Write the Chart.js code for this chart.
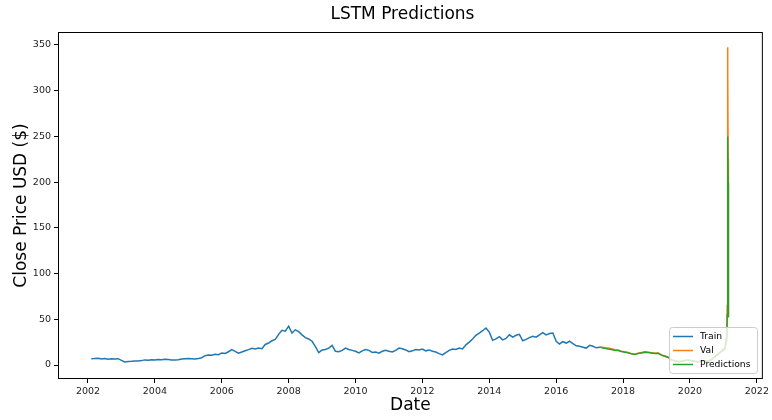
<!DOCTYPE html>
<html>
<head>
<meta charset="utf-8">
<title>LSTM Predictions</title>
<script src="https://cdn.jsdelivr.net/npm/chart.js@4/dist/chart.umd.min.js"></script>
<style>
    body { margin: 0; background: #fff; }
    canvas { display: block; }
</style>
</head>
<body>
<canvas id="chart" width="772" height="420"></canvas>
<script>
// Training period (decimal years) and close prices
const trainDates = [
    2002.1, 2002.2, 2002.3, 2002.4, 2002.5, 2002.6, 2002.7, 2002.8, 2002.9,
    2003.0, 2003.1, 2003.2, 2003.3, 2003.4, 2003.5, 2003.6, 2003.7, 2003.8, 2003.9,
    2004.0, 2004.1, 2004.2, 2004.3, 2004.4, 2004.5, 2004.6, 2004.7, 2004.8, 2004.9,
    2005.0, 2005.1, 2005.2, 2005.3, 2005.4, 2005.5, 2005.6, 2005.7, 2005.8, 2005.9,
    2006.0, 2006.1, 2006.2, 2006.3, 2006.4, 2006.5, 2006.6, 2006.7, 2006.8, 2006.9,
    2007.0, 2007.1, 2007.2, 2007.3, 2007.4, 2007.5, 2007.6, 2007.7, 2007.8, 2007.9,
    2008.0, 2008.1, 2008.2, 2008.3, 2008.4, 2008.5, 2008.6, 2008.7, 2008.8, 2008.9,
    2009.0, 2009.1, 2009.2, 2009.3, 2009.4, 2009.5, 2009.6, 2009.7, 2009.8, 2009.9,
    2010.0, 2010.1, 2010.2, 2010.3, 2010.4, 2010.5, 2010.6, 2010.7, 2010.8, 2010.9,
    2011.0, 2011.1, 2011.2, 2011.3, 2011.4, 2011.5, 2011.6, 2011.7, 2011.8, 2011.9,
    2012.0, 2012.1, 2012.2, 2012.3, 2012.4, 2012.5, 2012.6, 2012.7, 2012.8, 2012.9,
    2013.0, 2013.1, 2013.2, 2013.3, 2013.4, 2013.5, 2013.6, 2013.7, 2013.8, 2013.9,
    2014.0, 2014.1, 2014.2, 2014.3, 2014.4, 2014.5, 2014.6, 2014.7, 2014.8, 2014.9,
    2015.0, 2015.1, 2015.2, 2015.3, 2015.4, 2015.5, 2015.6, 2015.7, 2015.8, 2015.9,
    2016.0, 2016.1, 2016.2, 2016.3, 2016.4, 2016.5, 2016.6, 2016.7, 2016.8, 2016.9,
    2017.0, 2017.1, 2017.2, 2017.3, 2017.35
];
const trainClose = [
    6.8, 7.0, 7.4, 6.6, 7.2, 6.2, 6.8, 6.5, 6.9,
    5.0, 3.4, 3.8, 4.0, 4.3, 4.5, 4.8, 5.6, 5.2, 5.8,
    5.6, 6.0, 5.8, 6.2, 5.9, 5.6, 5.4, 5.8, 6.6, 6.9,
    7.2, 6.9, 6.6, 7.1, 8.0, 10.2, 11.0, 10.6, 11.8, 11.2,
    13.2, 12.6, 14.5, 16.8, 15.0, 13.0, 14.2, 15.6, 16.8, 18.2,
    17.6, 18.5, 17.8, 22.5, 24.0, 26.5, 28.0, 33.5, 38.0, 37.0,
    42.5, 35.0, 38.5, 36.5, 33.0, 30.0, 28.5, 26.0, 20.0, 13.5,
    16.5, 17.0, 18.5, 21.5, 15.0, 14.5, 16.0, 18.5, 17.0, 16.0,
    15.0, 13.2, 15.5, 17.0, 16.0, 13.8, 14.2, 13.0, 15.0, 16.0,
    15.0, 14.2, 16.0, 18.5, 17.8, 16.5, 14.5, 15.5, 17.0, 16.5,
    17.5, 15.5, 16.5, 15.0, 14.2, 12.5, 11.0, 13.5, 16.0, 17.5,
    17.0, 18.5, 17.5, 22.0, 25.0, 28.5, 32.5, 35.0, 37.5, 40.5,
    36.0, 27.0, 28.5, 31.0, 27.5, 29.0, 33.0, 30.5, 32.5, 33.5,
    26.5, 28.0, 30.0, 31.5, 30.5, 33.0, 35.5, 33.0, 34.5, 35.0,
    26.0, 23.0, 25.5, 24.0, 26.0, 23.5, 21.0, 20.5, 19.5, 18.5,
    21.5, 20.5, 18.8, 19.5, 19.8
];

// Validation period, actual closes and LSTM predictions
const valDates = [
    2017.35, 2017.45, 2017.55, 2017.65, 2017.75, 2017.85, 2017.95,
    2018.05, 2018.15, 2018.25, 2018.35, 2018.45, 2018.55, 2018.65, 2018.75, 2018.85, 2018.95,
    2019.05, 2019.15, 2019.25, 2019.35, 2019.45, 2019.55, 2019.65, 2019.75, 2019.85, 2019.95,
    2020.05, 2020.15, 2020.25, 2020.35, 2020.45, 2020.55, 2020.65, 2020.75, 2020.85, 2020.95,
    2021.05, 2021.09, 2021.105, 2021.115, 2021.123, 2021.126, 2021.129,
    2021.132, 2021.135, 2021.143, 2021.146, 2021.149, 2021.152, 2021.155
];
const valClose = [
    19.8, 19.0, 18.5, 17.8, 16.8, 16.5, 15.2,
    14.5, 13.8, 12.4, 11.8, 13.0, 13.8, 14.5, 14.0, 13.5, 12.8,
    13.2, 11.0, 9.8, 8.5, 5.5, 4.5, 3.6, 4.0, 5.2, 5.6,
    4.6, 3.9, 3.4, 4.8, 4.3, 4.4, 6.0, 9.8, 12.5, 15.8,
    18.8, 31.4, 39.1, 65.0, 76.8, 148.0, 347.5,
    193.6, 325.0, 225.0, 90.0, 92.4, 53.5, 63.8
];
const predClose = [
    18.8, 18.3, 17.6, 17.0, 16.2, 15.8, 14.8,
    14.0, 13.4, 12.2, 11.6, 12.5, 13.2, 13.9, 13.6, 13.1, 12.5,
    12.8, 10.8, 9.6, 8.3, 5.6, 4.6, 3.8, 4.0, 5.0, 5.4,
    4.6, 4.0, 3.5, 4.6, 4.3, 4.4, 5.8, 9.2, 12.0, 15.0,
    17.8, 27.0, 36.0, 55.0, 70.0, 120.0, 250.0,
    185.0, 240.0, 200.0, 95.0, 88.0, 56.0, 52.0
];

const xTicks = [2002, 2004, 2006, 2008, 2010, 2012, 2014, 2016, 2018, 2020, 2022];
const yTicks = [0, 50, 100, 150, 200, 250, 300, 350];

const FONT = "'DejaVu Sans', sans-serif";
const colors = { train: '#1f77b4', val: '#ff7f0e', pred: '#2ca02c' };

function toPoints(xs, ys) {
    return xs.map((x, i) => ({ x: x, y: ys[i] }));
}

// frame, title and legend drawn like matplotlib
const decorPlugin = {
    id: 'decor',
    afterDraw(chart) {
        const { ctx, chartArea: a } = chart;
        ctx.save();
        ctx.strokeStyle = '#000';
        ctx.lineWidth = 1;
        ctx.strokeRect(a.left + 0.5, a.top + 0.5, a.right - a.left - 1, a.bottom - a.top - 1);

        ctx.fillStyle = '#000';
        ctx.font = '17px ' + FONT;
        ctx.textAlign = 'center';
        ctx.textBaseline = 'middle';
        ctx.fillText('LSTM Predictions', (a.left + a.right) / 2 - 8, 15);

        // legend box
        const bx = 669, by = 327, bw = 88, bh = 46;
        ctx.fillStyle = 'rgba(255,255,255,0.8)';
        ctx.strokeStyle = '#cccccc';
        ctx.lineWidth = 1;
        ctx.beginPath();
        ctx.roundRect(bx + 0.5, by + 0.5, bw, bh, 3);
        ctx.fill();
        ctx.stroke();

        const items = [['Train', colors.train], ['Val', colors.val], ['Predictions', colors.pred]];
        ctx.font = '9.2px ' + FONT;
        ctx.textAlign = 'left';
        items.forEach(([label, col], i) => {
            const y = by + 9.5 + i * 14;
            ctx.strokeStyle = col;
            ctx.lineWidth = 1.5;
            ctx.beginPath();
            ctx.moveTo(bx + 4, y);
            ctx.lineTo(bx + 24, y);
            ctx.stroke();
            ctx.fillStyle = '#000';
            ctx.fillText(label, bx + 31, y + 0.5);
        });
        ctx.restore();
    }
};

new Chart(document.getElementById('chart'), {
    type: 'line',
    data: {
        datasets: [
            { label: 'Train', data: toPoints(trainDates, trainClose), borderColor: colors.train, order: 2 },
            { label: 'Val', data: toPoints(valDates, valClose), borderColor: colors.val, order: 1 },
            { label: 'Predictions', data: toPoints(valDates, predClose), borderColor: colors.pred, order: 0 }
        ]
    },
    options: {
        responsive: false,
        animation: false,
        layout: { padding: { top: 32, right: 9, left: 0, bottom: 0 } },
        elements: {
            point: { radius: 0 },
            line: { borderWidth: 1.5, tension: 0, fill: false }
        },
        plugins: {
            legend: { display: false },
            tooltip: { enabled: false }
        },
        scales: {
            x: {
                type: 'linear',
                min: 2001.103,
                max: 2022.18,
                afterBuildTicks: scale => { scale.ticks = xTicks.map(v => ({ value: v })); },
                afterFit: scale => { scale.height = 41; },
                grid: { drawOnChartArea: false, drawTicks: true, tickLength: 4, color: '#000' },
                border: { display: false },
                ticks: {
                    autoSkip: false, maxRotation: 0, padding: 3, color: '#222',
                    font: { family: FONT, size: 9.5 },
                    callback: v => String(v)
                },
                title: {
                    display: true, text: 'Date', color: '#000',
                    font: { family: FONT, size: 17 }, padding: { top: 0, bottom: 4 }
                }
            },
            y: {
                min: -15.3,
                max: 364.2,
                afterBuildTicks: scale => { scale.ticks = yTicks.map(v => ({ value: v })); },
                afterFit: scale => { scale.width = 58; },
                grid: { drawOnChartArea: false, drawTicks: true, tickLength: 4, color: '#000' },
                border: { display: false },
                ticks: {
                    padding: 3, color: '#222',
                    font: { family: FONT, size: 9.5 },
                    callback: v => String(v)
                },
                title: {
                    display: true, text: 'Close Price USD ($)', color: '#000',
                    font: { family: FONT, size: 17 }, padding: { top: 11, bottom: 0 }
                }
            }
        }
    },
    plugins: [decorPlugin]
});
</script>
</body>
</html>
